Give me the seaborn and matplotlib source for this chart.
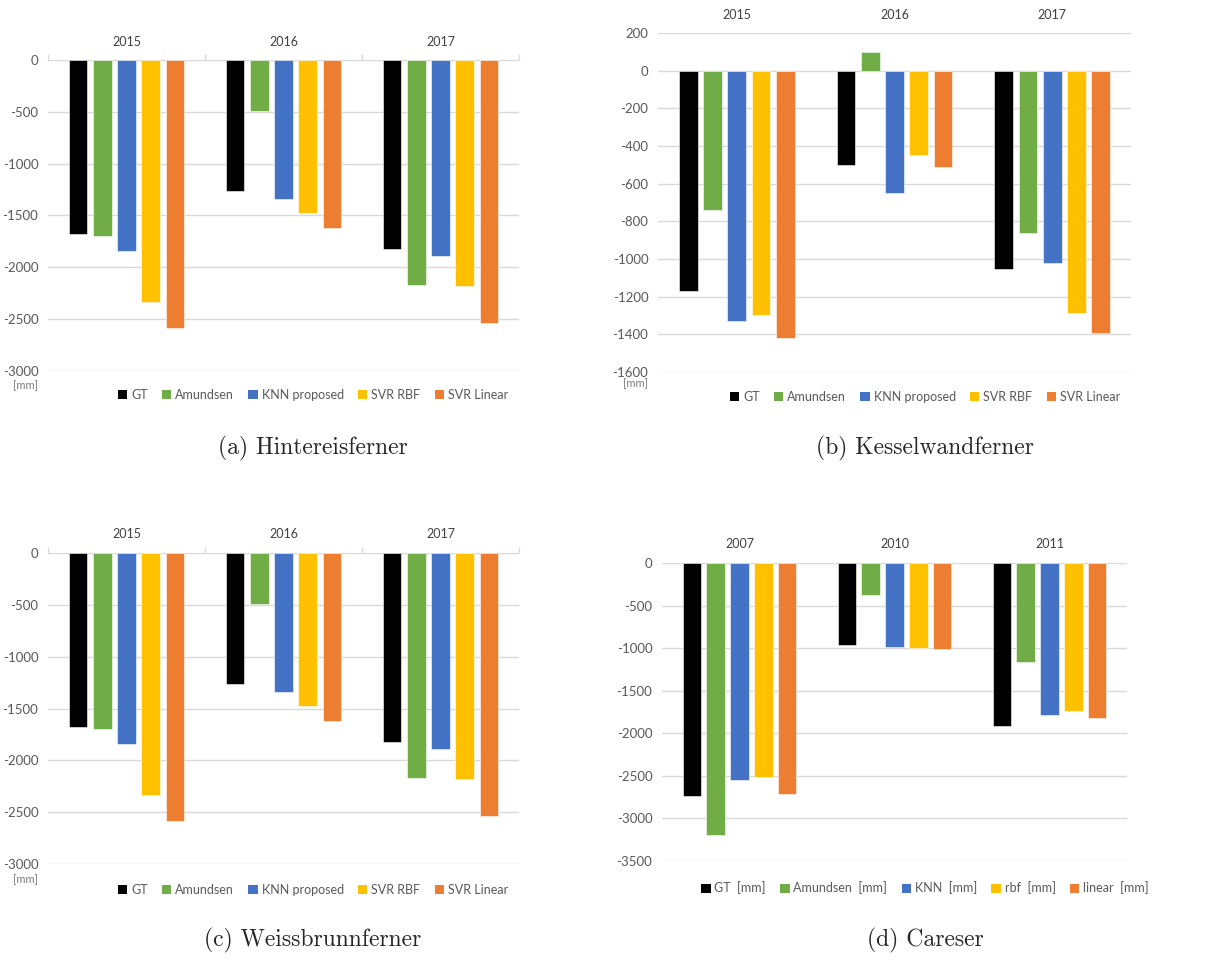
import matplotlib
matplotlib.use("Agg")
import matplotlib.pyplot as plt
from matplotlib.patches import Patch
import seaborn as sns
import pandas as pd

sns.set_style("white")
plt.rcParams["font.family"] = ["Lato", "DejaVu Sans"]
plt.rcParams["axes.unicode_minus"] = False

W, H = 1221, 961

warna = ["#000000", "#70AD47", "#4472C4", "#FFC000", "#ED7D31"]
model = ["GT", "Amundsen", "KNN proposed", "SVR RBF", "SVR Linear"]
model_careser = ["GT  [mm]", "Amundsen  [mm]", "KNN  [mm]", "rbf  [mm]", "linear  [mm]"]

tahun_tirol = ["2015", "2016", "2017"]
tahun_careser = ["2007", "2010", "2011"]

# nilai, [mm]
hintereis = {
    "GT": [-1675, -1260, -1820],
    "Amundsen": [-1700, -495, -2175],
    "KNN proposed": [-1845, -1345, -1895],
    "SVR RBF": [-2330, -1480, -2180],
    "SVR Linear": [-2585, -1620, -2535],
}
kesselwand = {
    "GT": [-1170, -500, -1055],
    "Amundsen": [-740, 98, -860],
    "KNN proposed": [-1330, -650, -1020],
    "SVR RBF": [-1295, -447, -1285],
    "SVR Linear": [-1420, -512, -1395],
}
weissbrunn = {
    "GT": [-1675, -1260, -1820],
    "Amundsen": [-1700, -495, -2175],
    "KNN proposed": [-1845, -1345, -1895],
    "SVR RBF": [-2330, -1480, -2180],
    "SVR Linear": [-2585, -1620, -2535],
}
careser = {
    "GT  [mm]": [-2740, -965, -1920],
    "Amundsen  [mm]": [-3190, -370, -1160],
    "KNN  [mm]": [-2550, -985, -1780],
    "rbf  [mm]": [-2515, -995, -1740],
    "linear  [mm]": [-2710, -1005, -1815],
}

fig = plt.figure(figsize=(W / 100, H / 100), dpi=100)
fig.patch.set_facecolor("white")


def kotak(kiri, atas, kanan, bawah):
    return [kiri / W, 1 - bawah / H, (kanan - kiri) / W, (bawah - atas) / H]


def panel(box, tahun, nama_model, nilai, ybawah, yatas, langkah, tick_batas,
          legend_xy, mm_xy, judul, judul_xy):
    ax = fig.add_axes(kotak(*box))
    baris = []
    for m in nama_model:
        for t, v in zip(tahun, nilai[m]):
            baris.append((t, m, v))
    df = pd.DataFrame(baris, columns=["tahun", "model", "nilai"])
    sns.barplot(data=df, x="tahun", y="nilai", hue="model", order=tahun,
                hue_order=nama_model, palette=warna, saturation=1,
                width=0.77, gap=0.23, edgecolor="white", linewidth=0.4,
                legend=False, ax=ax, zorder=3)
    ax.set_ylim(ybawah, yatas)
    ax.set_xlim(-0.5, 2.5)
    ax.set_yticks(list(range(ybawah, yatas + 1, langkah)))
    ax.yaxis.grid(True, color="#D9D9D9", lw=1.0)
    ax.set_axisbelow(True)
    for s in ax.spines.values():
        s.set_visible(False)
    ax.xaxis.tick_top()
    ax.tick_params(axis="x", length=0, pad=9, labelsize=9, labelcolor="#404040")
    ax.tick_params(axis="y", length=0, pad=7, labelsize=9.5, labelcolor="#595959")
    if tick_batas:
        ax.set_xticks([-0.5, 0.5, 1.5, 2.5], minor=True)
        ax.tick_params(axis="x", which="minor", top=True, length=4,
                       color="#D9D9D9", width=1)
    ax.set_xlabel("")
    ax.set_ylabel("")

    handles = [Patch(facecolor=c, edgecolor="none") for c in warna]
    fig.legend(handles, nama_model, loc="center",
               bbox_to_anchor=(legend_xy[0] / W, 1 - legend_xy[1] / H),
               ncol=5, frameon=False, fontsize=9, handlelength=0.75,
               handleheight=0.75, handletextpad=0.3, columnspacing=1.15,
               labelcolor="#595959")
    if mm_xy is not None:
        fig.text(mm_xy[0] / W, 1 - mm_xy[1] / H, "[mm]", ha="center",
                 va="center", fontsize=8, color="#7F7F7F")
    fig.text(judul_xy[0] / W, 1 - judul_xy[1] / H, judul, ha="center",
             va="center", fontsize=17, family="cmr10")
    return ax


panel((48, 60, 519, 371), tahun_tirol, model, hintereis, -3000, 0, 500, True,
      (313, 395), (25, 386), "(a) Hintereisferner", (313, 448))
panel((658, 33, 1131, 372), tahun_tirol, model, kesselwand, -1600, 200, 200, False,
      (925, 397), (636, 384), "(b) Kesselwandferner", (925, 448))
panel((48, 553, 519, 864), tahun_tirol, model, weissbrunn, -3000, 0, 500, True,
      (313, 890), (25, 880), "(c) Weissbrunnferner", (313, 940))
panel((662, 563, 1127, 861), tahun_careser, model_careser, careser, -3500, 0, 500, False,
      (925, 888), None, "(d) Careser", (925, 940))

fig.savefig("out.png", dpi=100)
